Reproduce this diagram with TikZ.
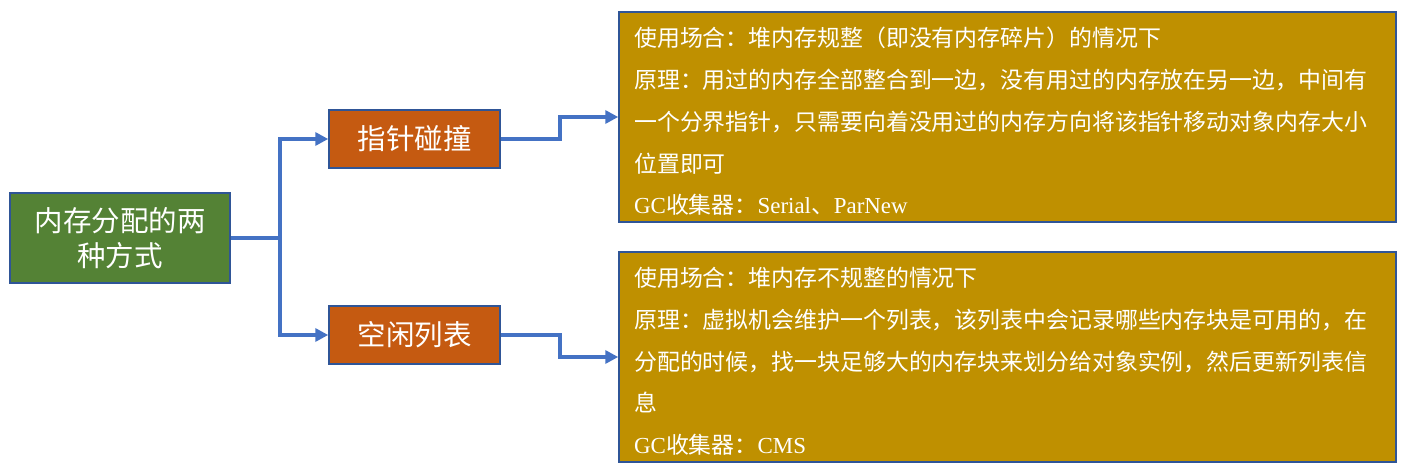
\documentclass[tikz,border=0pt]{standalone}
\usepackage{fontspec}
\setmainfont{Noto Sans CJK SC}
\newfontfamily\latinserif{Liberation Serif}
\usetikzlibrary{arrows.meta}
\definecolor{cgreen}{HTML}{548235}
\definecolor{corange}{HTML}{C55A11}
\definecolor{cgold}{HTML}{BF9000}
\definecolor{cborder}{HTML}{2F5597}
\definecolor{cline}{HTML}{4472C4}
\begin{document}
\begin{tikzpicture}[x=1pt,y=-1pt,
  boxbase/.style={draw=cborder,line width=1.5pt,inner sep=0pt,text=white},
  rootbox/.style={boxbase,fill=cgreen,minimum width=220pt,minimum height=90pt,align=center,font=\fontsize{28.5}{35}\selectfont},
  midbox/.style={boxbase,fill=corange,minimum width=171pt,minimum height=58pt,font=\fontsize{28.5}{35}\selectfont},
  infobox/.style={boxbase,fill=cgold,minimum width=777pt,minimum height=210pt},
  infotext/.style={anchor=west,inner sep=0pt,text=white,align=left,font=\fontsize{22.9}{41.75}\selectfont},
  conn/.style={draw=cline,line width=3.5pt,-{Triangle[length=13pt,width=13pt]}}
]
\useasboundingbox (0,0) rectangle (1404,470);
\node[rootbox] (root) at (120,238) {内存分配的两\\种方式};
\node[midbox] (p1) at (414.5,139) {指针碰撞};
\node[midbox] (p2) at (414.5,335) {空闲列表};
\node[infobox] (b1) at (1007.5,117) {};
\node[infobox] (b2) at (1007.5,357) {};
\node[infotext] (t1) at (634,121.5) {使用场合：堆内存规整（即没有内存碎片）的情况下\\
原理：用过的内存全部整合到一边，没有用过的内存放在另一边，中间有\\
一个分界指针，只需要向着没用过的内存方向将该指针移动对象内存大小\\
位置即可\\
{\latinserif GC}收集器：{\latinserif Serial}、{\latinserif ParNew}};
\node[infotext] (t2) at (634,361.5) {使用场合：堆内存不规整的情况下\\
原理：虚拟机会维护一个列表，该列表中会记录哪些内存块是可用的，在\\
分配的时候，找一块足够大的内存块来划分给对象实例，然后更新列表信\\
息\\
{\latinserif GC}收集器：{\latinserif CMS}};
\coordinate (j) at (280,238);
\draw[conn] (root.east) -- (j) |- (p1.west);
\draw[conn] (j) |- (p2.west);
\draw[conn] (p1.east) -- (560,139) |- (b1.west);
\draw[conn] (p2.east) -- (560,335) |- (b2.west);
\end{tikzpicture}
\end{document}
